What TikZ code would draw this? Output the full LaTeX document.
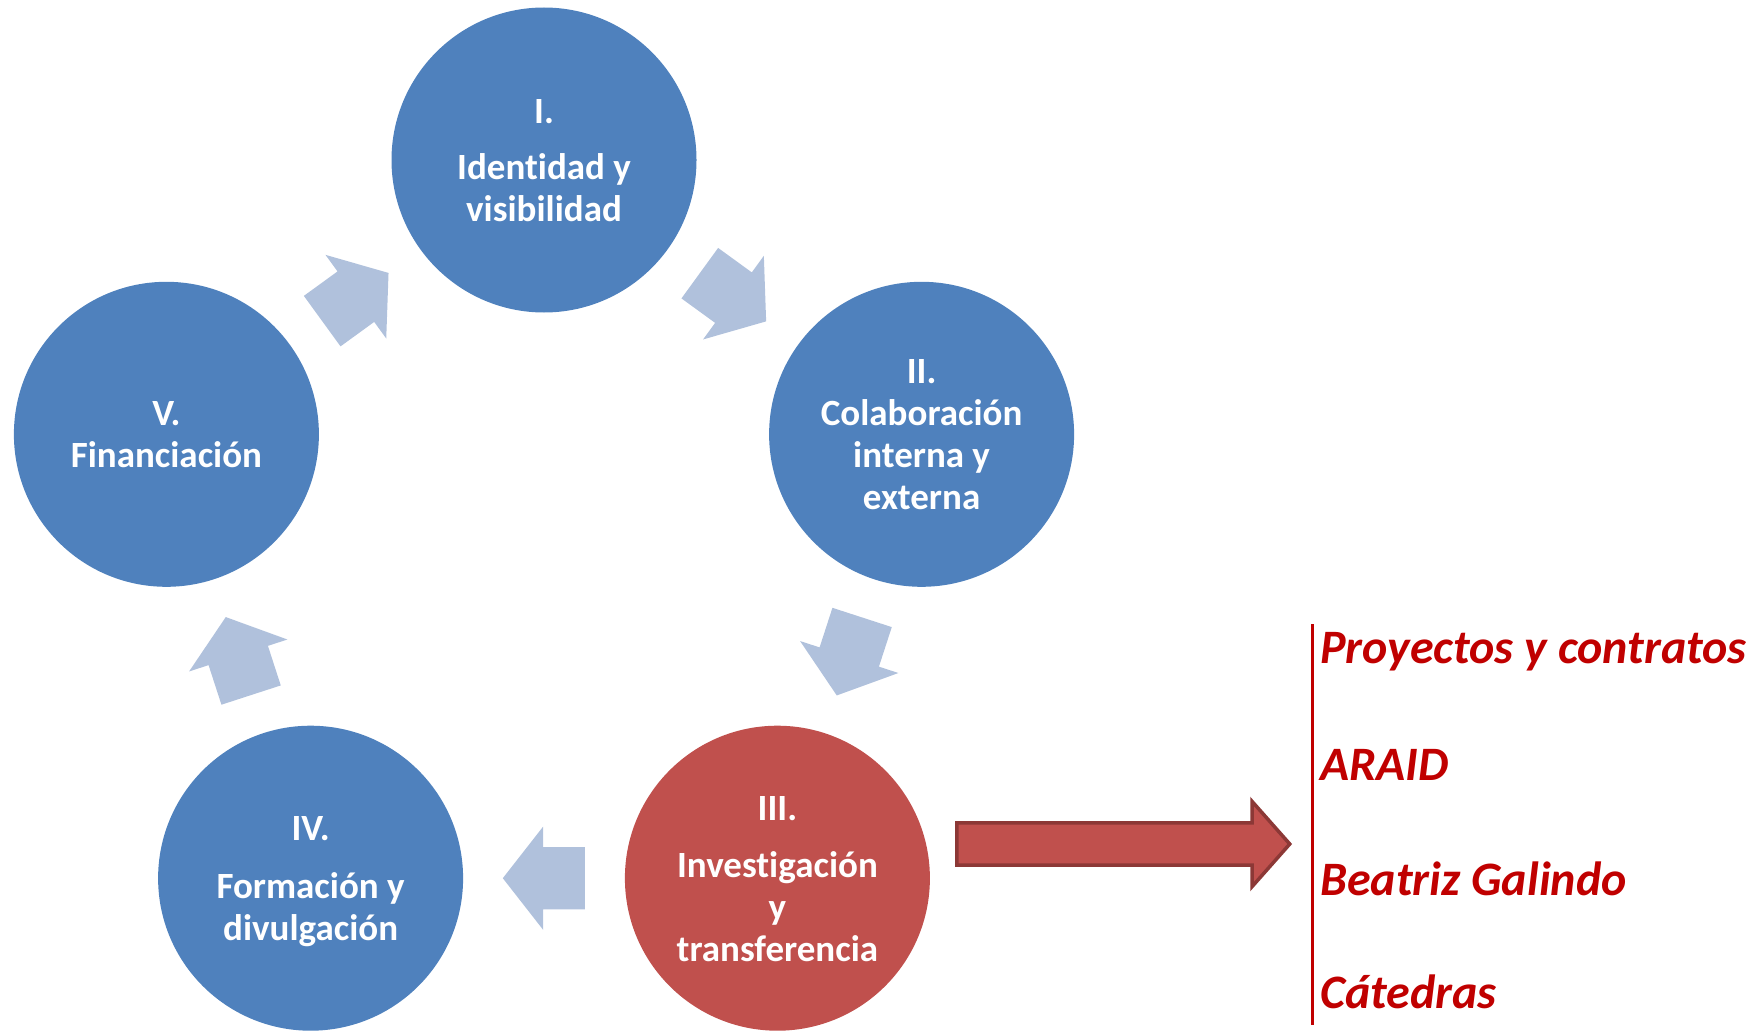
\documentclass[tikz,border=0pt]{standalone}
\usepackage{fontspec}
\setmainfont{Carlito}[Ligatures=NoCommon]
\usetikzlibrary{shapes.arrows,calc}
\definecolor{ringblue}{HTML}{4F81BD}
\definecolor{ringred}{HTML}{C0504D}
\definecolor{flowblue}{HTML}{B0C1DC}
\definecolor{arrowedge}{HTML}{8C3836}
\definecolor{listred}{HTML}{C00000}
% fixed-height line strut for the stage labels
\newcommand\ringstrut{\rule[-8.6pt]{0pt}{42pt}}
\begin{document}
\begin{tikzpicture}[x=1pt,y=-1pt,
  stage/.style={circle, fill=ringblue, minimum size=305pt, inner sep=0pt,
    text=white, align=center, font=\fontsize{37}{42}\selectfont\bfseries},
  stagehot/.style={stage, fill=ringred},
  flow/.style={single arrow, fill=flowblue, draw=none, anchor=tail,
    inner xsep=0pt, inner ysep=31pt, minimum height=82pt,
    single arrow head extend=20.5pt, single arrow tip angle=104},
  outflow/.style={single arrow, fill=ringred, draw=arrowedge, line width=3.5pt,
    anchor=tail, inner xsep=0pt, inner ysep=19.4pt, minimum height=333pt,
    single arrow head extend=21.5pt, single arrow tip angle=97},
  item/.style={anchor=base west, inner sep=0pt, text=listred,
    font=\fontsize{48}{56}\selectfont\bfseries\itshape}
]
\useasboundingbox (0,0) rectangle (1760,1030);
\clip (0,0) rectangle (1760,1030);

% the five stages, set on a ring
\node[stage] (I) at (544,160)
  {\ringstrut I.\\[14pt]\ringstrut Identidad y\\\ringstrut visibilidad};
\node[stage] (II) at (921.6,434.3)
  {\ringstrut II.\\\ringstrut Colaboración\\\ringstrut interna y\\\ringstrut externa};
\node[stagehot] (III) at (777.4,878.2)
  {\ringstrut III.\\[15pt]\ringstrut Investigación\\\ringstrut y\\\ringstrut transferencia};
\node[stage] (IV) at (310.6,878.2)
  {\ringstrut IV.\\[16pt]\ringstrut Formación y\\\ringstrut divulgación};
\node[stage] (V) at (166.4,434.3)
  {\ringstrut V.\\\ringstrut Financiación};

% block arrows between neighbouring stages, centred on the chord midpoint
% and pointing along the cycle
\foreach \a/\b in {I/II, II/III, III/IV, IV/V, V/I}
  \path let \p1=($(\b)-(\a)$), \n1={atan2(\y1,\x1)} in
    node[flow, rotate=\n1] (f\a) at ($($(\a)!0.5!(\b)$)!41pt!(\a)$) {};

% outgoing arrow from stage III to the list of instruments
\node[outflow] (push) at (955,844) {};

% list of instruments with its rule
\coordinate (ruletop) at (1312,624);
\coordinate (rulebot) at (1312,1025);
\draw[listred, line width=3pt] (ruletop) -- (rulebot);
\node[item] (t1) at (1320,663) {Proyectos y contratos};
\node[item] (t2) at (1320,780) {ARAID};
\node[item] (t3) at (1320,895) {Beatriz Galindo};
\node[item] (t4) at (1320,1008) {Cátedras};
\end{tikzpicture}
\end{document}
